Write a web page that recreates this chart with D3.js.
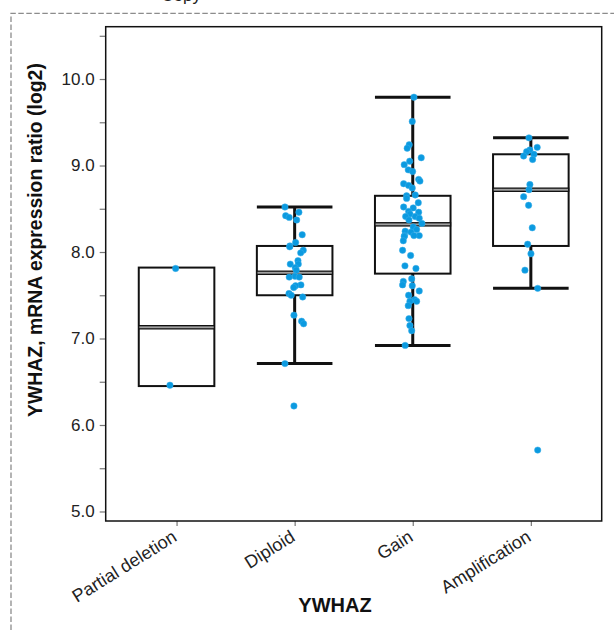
<!DOCTYPE html>
<html>
<head>
<meta charset="utf-8">
<script src="https://cdn.jsdelivr.net/npm/d3@7"></script>
<style>
  body { margin: 0; background: #fff; }
  svg { display: block; font-family: Arial, 'Liberation Sans', sans-serif; }
</style>
</head>
<body>
<div id="chart"></div>
<script>
// categories on the x axis
const categories = ['Partial deletion', 'Diploid', 'Gain', 'Amplification']

// box statistics
const q1 = [6.45, 7.50, 7.75, 8.07]
const medians = [7.13, 7.76, 8.32, 8.72]
const q3 = [7.82, 8.07, 8.65, 9.13]
const whiskerLow = [null, 6.71, 6.92, 7.58]
const whiskerHigh = [null, 8.52, 9.79, 9.32]

// individual samples (log2 ratio) and their horizontal jitter (fraction of the band step)
const partialDeletion = [7.81, 6.46]
const partialDeletionJitter = [-0.008, -0.056]

const diploid = [8.52, 8.46, 8.42, 8.40, 8.37, 8.20, 8.11, 8.07, 8.06, 8.02, 7.99, 7.90, 7.86, 7.86, 7.82,
  7.79, 7.72, 7.71, 7.71, 7.62, 7.61, 7.59, 7.52, 7.50, 7.48, 7.27, 7.20, 7.17, 6.71, 6.22]
const diploidJitter = [-0.082, 0.036, -0.076, -0.046, 0.017, 0.064, 0.008, -0.040, -0.042, 0.073, 0.051, 0.028, -0.037, 0.031, 0.005,
  0.014, 0.003, 0.039, -0.046, 0.053, 0.008, -0.008, -0.048, -0.029, 0.068, -0.006, 0.059, 0.076, -0.082, -0.006]

const gain = [9.79, 9.51, 9.24, 9.20, 9.09, 9.05, 9.01, 8.95, 8.93, 8.84, 8.82, 8.79, 8.77, 8.74, 8.66,
  8.65, 8.62, 8.57, 8.52, 8.51, 8.47, 8.46, 8.44, 8.41, 8.41, 8.39, 8.37, 8.33, 8.29, 8.26,
  8.24, 8.23, 8.19, 8.19, 8.19, 8.18, 8.13, 8.02, 7.96, 7.84, 7.81, 7.69, 7.66, 7.62, 7.61,
  7.55, 7.50, 7.45, 7.43, 7.43, 7.38, 7.23, 7.15, 7.09, 6.92]
const gainJitter = [0.010, -0.004, -0.030, -0.047, 0.072, -0.026, -0.072, -0.038, -0.001, 0.050, 0.061, -0.077, -0.035, -0.004, 0.021,
  -0.052, -0.052, 0.047, -0.077, 0.004, -0.035, 0.050, -0.024, -0.060, 0.021, 0.055, -0.032, 0.078, 0.004, 0.033,
  -0.064, -0.015, 0.055, -0.069, 0.010, -0.072, -0.080, -0.086, -0.018, -0.066, 0.027, -0.009, -0.080, -0.086, -0.004,
  0.055, -0.035, 0.016, -0.024, 0.033, -0.038, -0.032, -0.024, -0.009, -0.064]

const amplification = [9.32, 9.21, 9.18, 9.16, 9.13, 9.11, 9.07, 8.78, 8.72, 8.64, 8.54, 8.28, 8.09, 7.98, 7.79, 7.58, 5.71]
const amplificationJitter = [-0.016, 0.054, -0.008, -0.036, 0.026, -0.061, 0.015, -0.008, -0.016, -0.061, -0.019, 0.012, -0.027, 0.001, -0.050, 0.058, 0.058]

// y axis ticks
const yTicks = [5, 5.5, 6, 6.5, 7, 7.5, 8, 8.5, 9, 9.5, 10, 10.5]
const yTickLabels = ['5.0', '', '6.0', '', '7.0', '', '8.0', '', '9.0', '', '10.0', '']

const samples = [partialDeletion, diploid, gain, amplification]
const jitters = [partialDeletionJitter, diploidJitter, gainJitter, amplificationJitter]

const width = 614
const height = 630
const margin = { top: 26.7, right: 12.3, bottom: 109, left: 105.7 }

const svg = d3.select('#chart').append('svg')
  .attr('width', width)
  .attr('height', height)

// dashed panel border
svg.append('path')
  .attr('d', `M11,${height} V13.3 H${width}`)
  .attr('fill', 'none')
  .attr('stroke', '#8c8c8c')
  .attr('stroke-width', 1.3)
  .attr('stroke-dasharray', '5.5,2.5')

// caption of the figure above, clipped by the top edge
svg.append('text')
  .attr('x', 201).attr('y', 1)
  .attr('text-anchor', 'end')
  .attr('font-size', 17)
  .attr('fill', '#222')
  .text('Copy')

const x = d3.scalePoint()
  .domain(categories)
  .range([margin.left, width - margin.right])
  .padding(0.6)

const y = d3.scaleLinear()
  .domain([4.89, 10.605])
  .range([height - margin.bottom, margin.top])

const boxWidth = x.step() * 0.64

/** y axis */
const yAxis = svg.append('g')
  .attr('transform', `translate(${margin.left}, 0)`)
  .call(d3.axisLeft(y)
    .tickValues(yTicks)
    .tickSize(6)
    .tickPadding(5)
    .tickFormat((d, i) => yTickLabels[i]))
yAxis.select('.domain').remove()
yAxis.selectAll('line').attr('stroke', '#777').attr('stroke-width', 1.2)
yAxis.selectAll('text')
  .attr('font-size', 17)
  .attr('font-family', 'Arial, Liberation Sans, sans-serif')
  .attr('fill', '#222')

/** x axis */
const xAxis = svg.append('g')
  .attr('transform', `translate(0, ${height - margin.bottom})`)
  .call(d3.axisBottom(x).tickSize(5))
xAxis.select('.domain').remove()
xAxis.selectAll('line').attr('stroke', '#777').attr('stroke-width', 1.2)
xAxis.selectAll('text')
  .attr('font-size', 18)
  .attr('font-family', 'Arial, Liberation Sans, sans-serif')
  .attr('fill', '#222')
  .attr('text-anchor', 'end')
  .attr('x', 0).attr('y', 0).attr('dy', 0)
  .attr('transform', 'translate(1, 19) rotate(-32)')

// plot frame
svg.append('rect')
  .attr('x', margin.left)
  .attr('y', margin.top)
  .attr('width', width - margin.right - margin.left)
  .attr('height', height - margin.bottom - margin.top)
  .attr('fill', 'none')
  .attr('stroke', '#111')
  .attr('stroke-width', 1.5)

/** boxes */
const boxes = svg.append('g')
categories.forEach((c, i) => {
  const cx = x(c)
  const g = boxes.append('g')
  if (whiskerHigh[i] !== null) {
    g.append('line')
      .attr('x1', cx).attr('x2', cx)
      .attr('y1', y(q3[i])).attr('y2', y(whiskerHigh[i]))
      .attr('stroke', '#111').attr('stroke-width', 3)
    g.append('line')
      .attr('x1', cx).attr('x2', cx)
      .attr('y1', y(q1[i])).attr('y2', y(whiskerLow[i]))
      .attr('stroke', '#111').attr('stroke-width', 3)
    ;[whiskerHigh[i], whiskerLow[i]].forEach(v => {
      g.append('line')
        .attr('x1', cx - boxWidth / 2).attr('x2', cx + boxWidth / 2)
        .attr('y1', y(v)).attr('y2', y(v))
        .attr('stroke', '#111').attr('stroke-width', 3)
    })
  }
  g.append('rect')
    .attr('x', cx - boxWidth / 2)
    .attr('y', y(q3[i]))
    .attr('width', boxWidth)
    .attr('height', y(q1[i]) - y(q3[i]))
    .attr('fill', '#fff')
    .attr('stroke', '#111')
    .attr('stroke-width', 2)
  // median drawn as a double line
  g.append('rect')
    .attr('x', cx - boxWidth / 2)
    .attr('y', y(medians[i]) - 1.6)
    .attr('width', boxWidth)
    .attr('height', 3.2)
    .attr('fill', '#a0a0a0')
    .attr('stroke', '#111')
    .attr('stroke-width', 1.3)
})

/** jittered points */
const points = svg.append('g')
categories.forEach((c, i) => {
  points.selectAll(null)
    .data(samples[i])
    .enter()
    .append('circle')
    .attr('cx', (d, j) => x(c) + jitters[i][j] * x.step())
    .attr('cy', d => y(d))
    .attr('r', 3.2)
    .attr('fill', '#0b9ae0')
    .attr('stroke', '#3aaee8')
    .attr('stroke-width', 0.5)
})

/** axis titles */
svg.append('text')
  .attr('transform', 'translate(41.5, 240) rotate(-90)')
  .attr('text-anchor', 'middle')
  .attr('font-size', 19.4)
  .attr('font-weight', 'bold')
  .attr('fill', '#111')
  .text('YWHAZ, mRNA expression ratio (log2)')

svg.append('text')
  .attr('x', 335)
  .attr('y', 612)
  .attr('text-anchor', 'middle')
  .attr('font-size', 20)
  .attr('font-weight', 'bold')
  .attr('fill', '#111')
  .text('YWHAZ')
</script>
</body>
</html>
